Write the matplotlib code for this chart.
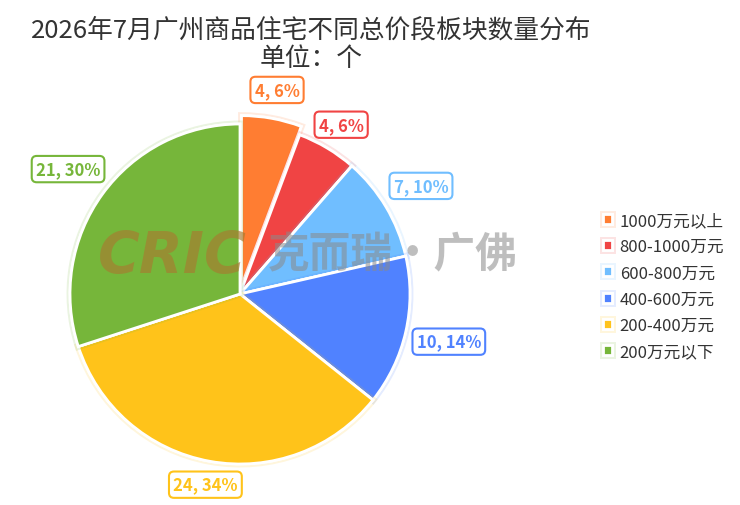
import numpy as np
import matplotlib.pyplot as plt
import matplotlib.patheffects as pe

plt.rcParams['font.family'] = ['Noto Sans CJK SC', 'DejaVu Sans']

# data
categories = ["1000万元以上", "800-1000万元", "600-800万元", "400-600万元", "200-400万元", "200万元以下"]
counts = [4, 4, 7, 10, 24, 21]
percents = ["6%", "6%", "10%", "14%", "34%", "30%"]
colors = ["#FF7D32", "#F04444", "#70BEFF", "#5082FF", "#FFC31A", "#76B63A"]
explode = [0.05, 0, 0, 0, 0, 0]
# how far out each label sits (in pie radii)
label_dist = [1.17, 1.16, 1.24, 1.26, 1.14, 1.25]

fig = plt.figure(figsize=(7.4, 5.06), dpi=100)

# pie centre at about (240, 295) px, radius about 170 px
R = 170
ax = fig.add_axes([(240 - 200) / 740, (211 - 200) / 506, 400 / 740, 400 / 506])

wedges, _ = ax.pie(counts, colors=colors, explode=explode, startangle=90,
                   counterclock=False, radius=1,
                   wedgeprops=dict(edgecolor="white", linewidth=2))
ax.set_xlim(-200 / R, 200 / R)
ax.set_ylim(-200 / R, 200 / R)
ax.axis("off")
for w, c in zip(wedges, colors):
    w.set_path_effects([pe.withStroke(linewidth=5, foreground=c, alpha=0.15), pe.Normal()])

# boxed data labels
for w, n, p, c, e, d in zip(wedges, counts, percents, colors, explode, label_dist):
    mid = np.deg2rad((w.theta1 + w.theta2) / 2)
    r = d + e
    ax.text(r * np.cos(mid), r * np.sin(mid), f"{n}, {p}", ha="center", va="center",
            fontsize=12, fontweight="bold", color=c,
            bbox=dict(boxstyle="round,pad=0.25,rounding_size=0.3", fc="white", ec=c, lw=1.5))

# title
fig.text(0.42, 1 - 31 / 506, "2026年7月广州商品住宅不同总价段板块数量分布", ha="center", va="center",
         fontsize=18.5, color="#333333")
fig.text(0.42, 1 - 59 / 506, "单位：个", ha="center", va="center", fontsize=18.5, color="#333333")

# legend
fig.legend(wedges, categories, loc="upper left", bbox_to_anchor=(588 / 740, 1 - 198 / 506),
           frameon=False, fontsize=12, handlelength=0.55, handleheight=0.55,
           handletextpad=0.45, labelspacing=0.55, labelcolor="#333333")

# watermark
fig.text(98 / 740, 1 - 258 / 506, "CRIC", ha="left", va="center", fontsize=41,
         fontweight="heavy", fontstyle="italic", family="DejaVu Sans",
         color="#A87A30", alpha=0.65, zorder=10)
fig.text(268 / 740, 1 - 255 / 506, "克而瑞·广佛", ha="left", va="center", fontsize=30,
         fontweight="bold", color="#8A8A8A", alpha=0.55, zorder=10)

fig.savefig("out.png", dpi=100)
